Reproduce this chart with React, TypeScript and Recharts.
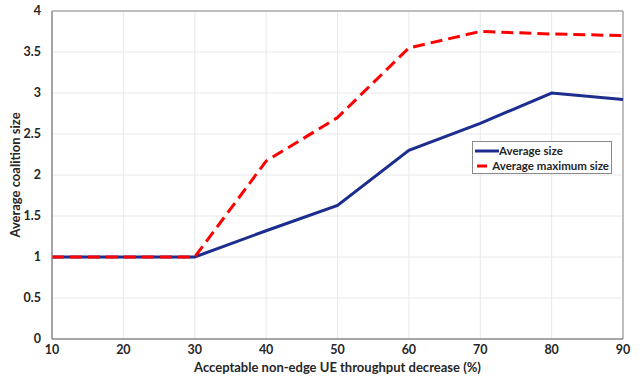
import React from 'react';
import {
  LineChart,
  Line,
  XAxis,
  YAxis,
  CartesianGrid,
  ReferenceArea,
} from 'recharts';

const decreasePct = [10, 20, 30, 40, 50, 60, 70, 80, 90];
const averageSize = [1, 1, 1, 1.32, 1.63, 2.3, 2.63, 3.0, 2.92];
const averageMaxSize = [1, 1, 1, 2.17, 2.7, 3.55, 3.75, 3.72, 3.7];
const yTicks = [0, 0.5, 1, 1.5, 2, 2.5, 3, 3.5, 4];
const yTickLabels = ['0', '0.5', '1', '1.5', '2', '2.5', '3', '3.5', '4'];
const seriesNames = ['Average size', 'Average maximum size'];

const data = decreasePct.map((x, i) => ({
  x,
  avg: averageSize[i],
  max: averageMaxSize[i],
}));

const FONT = 'Lato, "Open Sans", sans-serif';
const TEXT = '#262626';
const BLUE = '#1c2d8f';
const RED = '#ff0000';

const LegendBox = () => (
  <div
    style={{
      position: 'absolute',
      left: 472,
      top: 141,
      boxSizing: 'border-box',
      border: '1px solid #8a8a8a',
      background: '#fff',
      padding: '1px 2px',
      fontFamily: FONT,
      fontWeight: 700,
      fontSize: 11.5,
      color: TEXT,
      lineHeight: '15px',
      whiteSpace: 'nowrap',
      width: 140,
      height: 33,
    }}
  >
    <div style={{ display: 'flex', alignItems: 'center' }}>
      <svg width={24} height={8}>
        <line x1={0} y1={4} x2={24} y2={4} stroke={BLUE} strokeWidth={3} />
      </svg>
      <span>{seriesNames[0]}</span>
    </div>
    <div style={{ display: 'flex', alignItems: 'center' }}>
      <svg width={24} height={8}>
        <line x1={2} y1={4} x2={24} y2={4} stroke={RED} strokeWidth={3} strokeDasharray="10 11" />
      </svg>
      <span>{seriesNames[1]}</span>
    </div>
  </div>
);

export default function App() {
  return (
    <div style={{ position: 'fixed', left: 0, top: 0, width: 642, height: 378, background: '#fff' }}>
      <LineChart
        width={642}
        height={378}
        data={data}
        margin={{ top: 11, right: 19, left: 0, bottom: 0 }}
      >
        <CartesianGrid stroke="#e8e8e8" strokeWidth={1} />
        <XAxis
          dataKey="x"
          type="number"
          domain={[10, 90]}
          ticks={decreasePct}
          interval={0}
          height={39}
          axisLine={{ stroke: '#8a8a8a' }}
          tickLine={false}
          tick={{ fill: TEXT, fontFamily: FONT, fontWeight: 700, fontSize: 12.5 }}
          tickMargin={0}
          label={{
            value: 'Acceptable non-edge UE throughput decrease (%)',
            position: 'insideBottom',
            offset: 6,
            fill: TEXT,
            fontFamily: FONT,
            fontWeight: 700,
            fontSize: 13,
          }}
        />
        <YAxis
          type="number"
          domain={[0, 4]}
          ticks={yTicks}
          interval={0}
          width={52}
          axisLine={{ stroke: '#8a8a8a' }}
          tickLine={false}
          tickFormatter={(v: number) => yTickLabels[yTicks.indexOf(v)] ?? String(v)}
          tick={{ fill: TEXT, fontFamily: FONT, fontWeight: 700, fontSize: 12.5 }}
          tickMargin={5}
          label={{
            value: 'Average coalition size',
            angle: -90,
            position: 'insideLeft',
            offset: 15,
            style: { textAnchor: 'middle' },
            fill: TEXT,
            fontFamily: FONT,
            fontWeight: 700,
            fontSize: 13,
          }}
        />
        <ReferenceArea x1={10} x2={90} y1={0} y2={4} fill="none" stroke="#8a8a8a" strokeWidth={1} />
        <Line
          dataKey="avg"
          name={seriesNames[0]}
          stroke={BLUE}
          strokeWidth={3}
          dot={false}
          isAnimationActive={false}
        />
        <Line
          dataKey="max"
          name={seriesNames[1]}
          stroke={RED}
          strokeWidth={3}
          strokeDasharray="12 6"
          dot={false}
          isAnimationActive={false}
        />
      </LineChart>
      <LegendBox />
    </div>
  );
}
